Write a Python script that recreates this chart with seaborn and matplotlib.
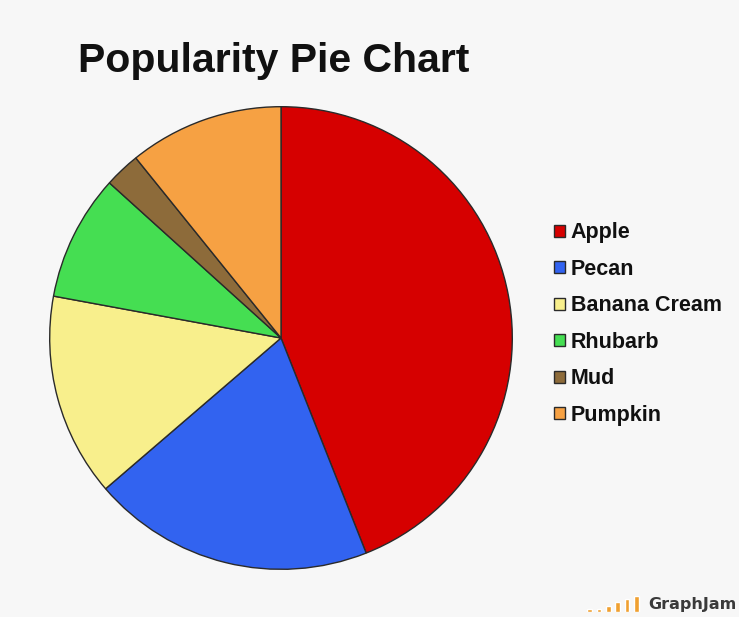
import matplotlib
matplotlib.use("Agg")
from matplotlib import pyplot as plt
import seaborn as sns

# pie data (share of votes)
flavors = ["Apple", "Pecan", "Banana Cream", "Rhubarb", "Mud", "Pumpkin"]
shares = [44.0, 19.7, 14.2, 8.8, 2.5, 10.8]
colors = ["#d60000", "#3263f0", "#f8ef8c", "#45de52", "#8d6b3a", "#f6a143"]

# little logo bars in the watermark
logo_bars = [1, 1, 2, 3, 4, 5]

sns.set_style("white")
plt.rcParams["font.family"] = ["Liberation Sans", "DejaVu Sans"]

bg = "#f7f7f7"
W, H = 739, 617
fig = plt.figure(figsize=(W / 100, H / 100), dpi=100, facecolor=bg)

# pie axes: centre (281, 338), radius 232 px
cx, cy, r = 281, 338, 232
ax = fig.add_axes([(cx - r) / W, (H - cy - r) / H, 2 * r / W, 2 * r / H])
ax.set_facecolor(bg)
wedges, _ = ax.pie(shares, colors=colors, startangle=90, counterclock=False,
                   wedgeprops=dict(edgecolor="#2a2a2a", linewidth=1.0))
ax.set_xlim(-1.003, 1.003)
ax.set_ylim(-1.003, 1.003)
ax.set_aspect("equal")
ax.axis("off")

fig.text(78 / W, 1 - 72 / H, "Popularity Pie Chart", fontsize=29.5,
         fontweight="bold", color="#111111", va="baseline", ha="left")

leg = fig.legend(wedges, flavors, loc="upper left",
                 bbox_to_anchor=(535 / W, 1 - 203 / H),
                 frameon=False,
                 prop=dict(weight="bold", size=15.5),
                 handlelength=0.5, handleheight=0.5,
                 handletextpad=0.25, labelspacing=0.72)
for t in leg.get_texts():
    t.set_color("#111111")

# watermark
lax = fig.add_axes([585 / W, 1 - 612 / H, 56 / W, 16 / H])
lax.set_facecolor("none")
sns.barplot(x=list(range(len(logo_bars))), y=logo_bars, color="#f0a030",
            width=0.5, saturation=1, ax=lax)
lax.set_ylim(0, 5)
lax.axis("off")
fig.text(648 / W, 1 - 605 / H, "GraphJam", fontsize=11.5, fontweight="bold",
         color="#3a3a3a", va="center", ha="left",
         family=["DejaVu Sans"])

fig.savefig("out.png", dpi=100, facecolor=bg)
